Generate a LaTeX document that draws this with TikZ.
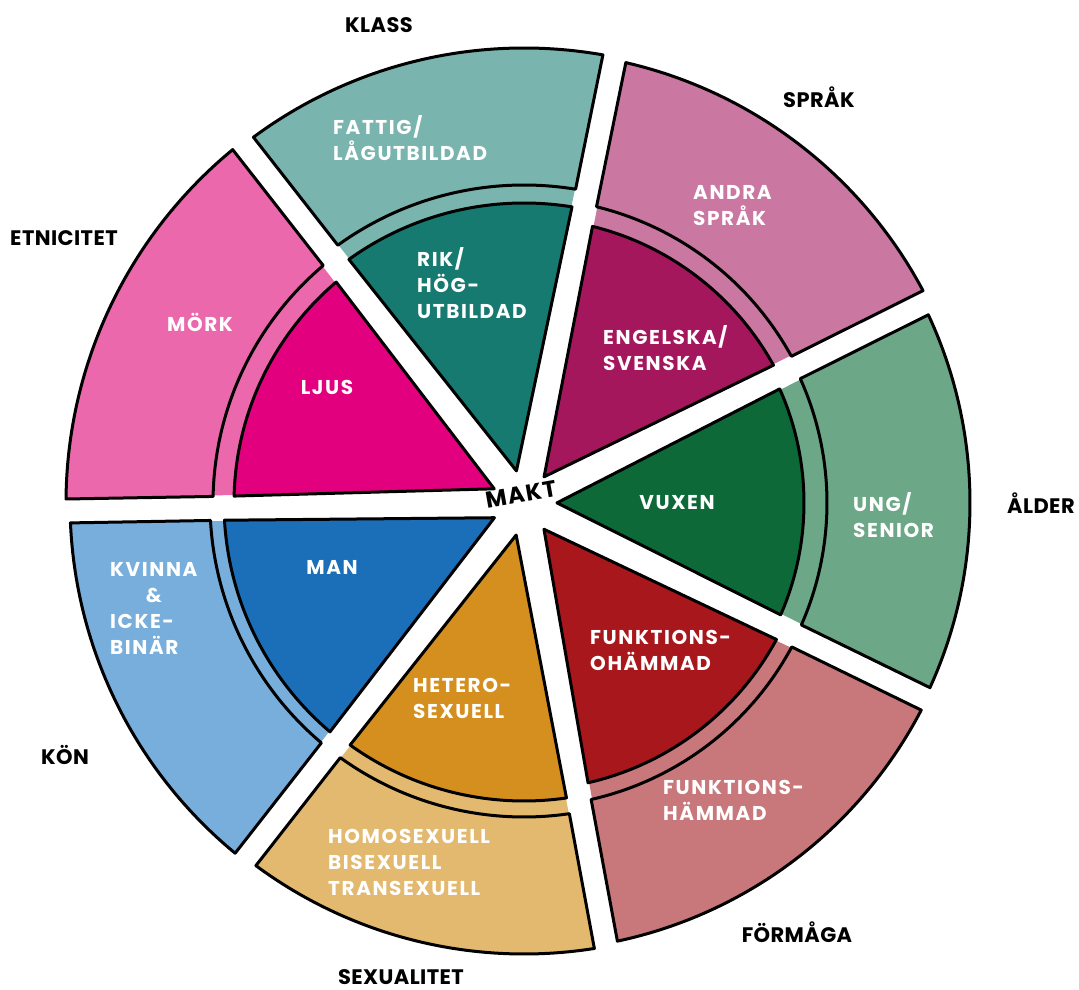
\documentclass[tikz,border=0pt]{standalone}
\usepackage{fontspec}
\setmainfont{Poppins}
\usepackage{calc}
\definecolor{tealL}{HTML}{79B4AE}
\definecolor{tealD}{HTML}{177A70}
\definecolor{pinkL}{HTML}{EC68AC}
\definecolor{pinkD}{HTML}{E2007E}
\definecolor{mauveL}{HTML}{CA78A2}
\definecolor{mauveD}{HTML}{A4175C}
\definecolor{greenL}{HTML}{6CA887}
\definecolor{greenD}{HTML}{0D6A38}
\definecolor{redL}{HTML}{C8777A}
\definecolor{redD}{HTML}{A8171C}
\definecolor{goldL}{HTML}{E3B96F}
\definecolor{goldD}{HTML}{D48F1E}
\definecolor{blueL}{HTML}{78AEDB}
\definecolor{blueD}{HTML}{1B6FB9}
\newcommand{\gapw}{12}
\newcommand{\tipd}{33}
\newcommand{\drawsector}[7]{%
  \pgfmathsetmacro{\secmid}{(#1+#2)/2}%
  \pgfmathsetmacro{\wia}{#1+asin(\gapw/#3)}%
  \pgfmathsetmacro{\wib}{#2-asin(\gapw/#3)}%
  \pgfmathsetmacro{\wma}{#1+asin(\gapw/#4)}%
  \pgfmathsetmacro{\wmb}{#2-asin(\gapw/#4)}%
  \pgfmathsetmacro{\woa}{#1+asin(\gapw/#5)}%
  \pgfmathsetmacro{\wob}{#2-asin(\gapw/#5)}%
  \fill[#6] (\secmid:\tipd pt) -- (\woa:#5pt) arc[start angle=\woa, end angle=\wob, radius=#5pt] -- cycle;
  \draw[outl, fill=#6] (\wma:#4pt) -- (\woa:#5pt) arc[start angle=\woa, end angle=\wob, radius=#5pt] -- (\wmb:#4pt) arc[start angle=\wmb, end angle=\wma, radius=#4pt] -- cycle;
  \draw[outl, fill=#7] (\secmid:\tipd pt) -- (\wia:#3pt) arc[start angle=\wia, end angle=\wib, radius=#3pt] -- cycle;
}
\begin{document}
\begin{tikzpicture}[x=1pt,y=1pt, line join=round, line cap=round,
  outl/.style={draw=black, line width=3pt},
  inlab/.style={text=white, font=\bfseries\fontsize{20}{26}\selectfont\addfontfeature{LetterSpace=8}, align=left, inner sep=0pt},
  hdr/.style={text=black, font=\bfseries\fontsize{21}{24}\selectfont\addfontfeature{LetterSpace=2}, inner sep=0pt}]
\useasboundingbox (-524,-487) rectangle (555,503);
% sectors: start, end, r1, r2, r3, light, dark
\drawsector{128}{181}{290}{311}{458}{pinkL}{pinkD}
\drawsector{78.5}{128}{300}{318}{455}{tealL}{tealD}
\drawsector{26.5}{78.5}{285}{305}{452}{mauveL}{mauveD}
\drawsector{-26}{26.5}{280}{303}{446}{greenL}{greenD}
\drawsector{-79.5}{-26}{287}{304}{448}{redL}{redD}
\drawsector{-128}{-79.5}{298}{314}{451}{goldL}{goldD}
\drawsector{-179}{-128}{300}{314}{454}{blueL}{blueD}
% inner labels
\node[inlab, anchor=west] (fattig) at (-191,365) {FATTIG/\\LÅGUTBILDAD};
\node[inlab, anchor=west] (rik) at (-107,220) {RIK/\\HÖG-\\UTBILDAD};
\node[inlab] (mork) at (-324,181) {MÖRK};
\node[inlab] (ljus) at (-197,116) {LJUS};
\node[inlab, anchor=west] (andra) at (169,297) {ANDRA\\SPRÅK};
\node[inlab, anchor=west] (engelska) at (79,155) {ENGELSKA/\\SVENSKA};
\node[inlab] (vuxen) at (153,0) {VUXEN};
\node[inlab, anchor=west] (ung) at (329,-12) {UNG/\\SENIOR};
\node[inlab, anchor=west] (ohammad) at (66,-147) {FUNKTIONS-\\OHÄMMAD};
\node[inlab, anchor=west] (hammad) at (139,-297) {FUNKTIONS-\\HÄMMAD};
\node[inlab, anchor=west] (hetero) at (-111,-195) {HETERO-\\SEXUELL};
\node[inlab, anchor=west] (homo) at (-196,-359) {HOMOSEXUELL\\BISEXUELL\\TRANSEXUELL};
\node[inlab] (man) at (-192,-64) {MAN};
\node[inlab, anchor=west] (kvinna) at (-414,-105) {KVINNA\\\makebox[\widthof{KVINNA}]{\&}\\ICKE-\\BINÄR};
% centre
\node[text=black, font=\bfseries\fontsize{23}{26}\selectfont\addfontfeature{LetterSpace=6}, rotate=10, inner sep=0pt] (makt) at (-3,9) {MAKT};
% headers
\node[hdr] (klass) at (-145,478) {KLASS};
\node[hdr] (sprak) at (295,406) {SPRÅK};
\node[hdr] (etnicitet) at (-460,265) {ETNICITET};
\node[hdr, anchor=west] (alder) at (483,0) {ÅLDER};
\node[hdr] (kon) at (-459,-252) {KÖN};
\node[hdr] (sexualitet) at (-123,-474) {SEXUALITET};
\node[hdr] (formaga) at (273,-429) {FÖRMÅGA};
\end{tikzpicture}
\end{document}
